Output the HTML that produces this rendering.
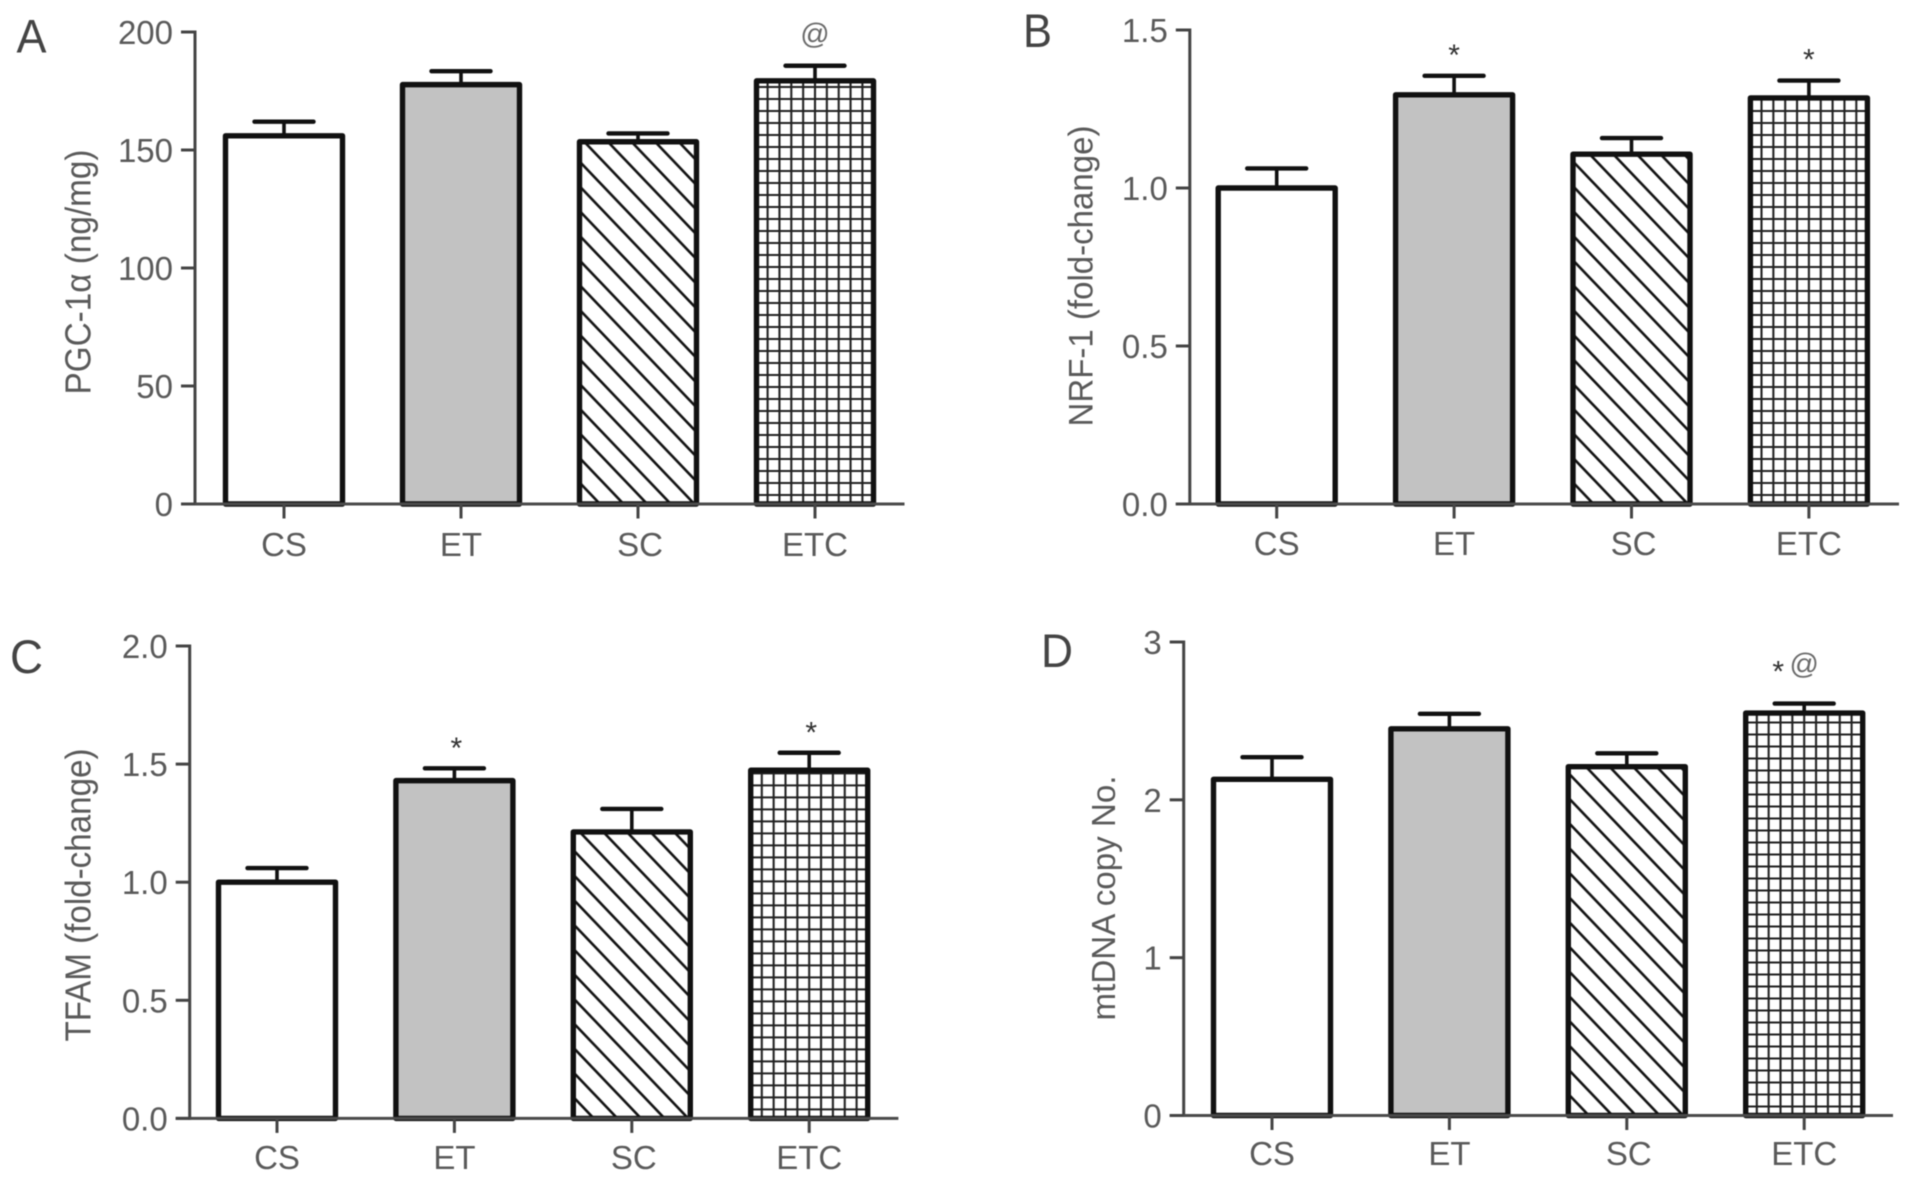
<!DOCTYPE html>
<html lang="en">
<head>
<meta charset="utf-8">
<title>PGC-1α, NRF-1, TFAM and mtDNA bar charts</title>
<style>
html,body{margin:0;padding:0;background:#fff;}
body{width:1913px;height:1183px;overflow:hidden;}
#figure{display:block;filter:blur(0.6px);}
text{font-family:"Liberation Sans",sans-serif;fill:#5a5a5a;}
</style>
</head>
<body>
<svg id="figure" xmlns="http://www.w3.org/2000/svg" width="1913" height="1183" viewBox="0 0 1913 1183">
<rect width="1913" height="1183" fill="#fff"/>
<defs id="defs"></defs>
</svg>
<script>
const categories = ['CS', 'ET', 'SC', 'ETC'];

const ticksA = ['0', '50', '100', '150', '200'];
const meansA = [156, 177.7, 153.5, 179.3];
const errorsA = [6, 5.7, 3.5, 6.4];
const marksA = ['', '', '', '@'];

const ticksB = ['0.0', '0.5', '1.0', '1.5'];
const meansB = [1.0, 1.295, 1.107, 1.285];
const errorsB = [0.062, 0.06, 0.051, 0.055];
const marksB = ['', '*', '', '*'];

const ticksC = ['0.0', '0.5', '1.0', '1.5', '2.0'];
const meansC = [1.0, 1.43, 1.213, 1.474];
const errorsC = [0.06, 0.052, 0.097, 0.074];
const marksC = ['', '*', '', '*'];

const ticksD = ['0', '1', '2', '3'];
const meansD = [2.13, 2.45, 2.21, 2.55];
const errorsD = [0.14, 0.095, 0.085, 0.06];
const marksD = ['', '', '', '*@'];

const NS = 'http://www.w3.org/2000/svg';
const svg = document.getElementById('figure');
const defs = document.getElementById('defs');

function make(tag, attrs, parent, content) {
  const el = document.createElementNS(NS, tag);
  Object.keys(attrs).forEach(function (k) { el.setAttribute(k, attrs[k]); });
  if (content !== undefined) el.textContent = content;
  parent.appendChild(el);
  return el;
}

function drawPanel(p) {
  const group = make('g', {}, svg);
  
  

  const maxValue = parseFloat(p.ticks[p.ticks.length - 1]);
  const yScale = function (v) { return p.base - (v / maxValue) * (p.base - p.top); };
  const xScale = function (i) { return p.x0 + i * p.step; };
  const halfBar = 58.5;
  const id = p.letter;

  const hatch = make('pattern', {id: 'hatch' + id, patternUnits: 'userSpaceOnUse', width: 23.6, height: 24.7, x: xScale(2) - 38, y: p.base}, defs);
  make('rect', {width: 23.6, height: 24.7, fill: '#fff'}, hatch);
  make('path', {d: 'M-3,-3.14 L26.6,27.84 M-3,21.56 L3,27.84 M20.6,-3.14 L26.6,3.14', stroke: '#111', 'stroke-width': 2.6, fill: 'none'}, hatch);

  const grid = make('pattern', {id: 'grid' + id, patternUnits: 'userSpaceOnUse', width: 11.85, height: 12, x: xScale(3) - 59.25 - 5.925, y: p.base - 9 - 6}, defs);
  make('rect', {width: 11.85, height: 12, fill: '#fff'}, grid);
  make('path', {d: 'M5.925,0 V12 M0,6 H11.85', stroke: '#222', 'stroke-width': 2.1, fill: 'none'}, grid);

  const fills = ['#fff', '#c2c2c2', 'url(#hatch' + id + ')', 'url(#grid' + id + ')'];

  categories.forEach(function (cat, i) {
    const cx = xScale(i);
    const topY = yScale(p.means[i]);
    const capY = yScale(p.means[i] + p.errors[i]);

    const stem = make('line', {x1: cx, x2: cx, y1: capY, y2: topY, stroke: '#111', 'stroke-width': 3.6}, group);
    
    

    const cap = make('line', {x1: cx - 29.5, x2: cx + 29.5, y1: capY, y2: capY, stroke: '#111', 'stroke-width': 4.4, 'stroke-linecap': 'round'}, group);
    
    

    const bar = make('rect', {x: cx - halfBar, y: topY, width: halfBar * 2, height: p.base - topY, fill: fills[i], stroke: '#111', 'stroke-width': 5.4, 'stroke-linejoin': 'round'}, group);
    
    

    const tick = make('line', {x1: cx, x2: cx, y1: p.base, y2: p.base + 14.5, stroke: '#444', 'stroke-width': 3}, group);
    
    

    const label = make('text', {x: cx + (cat === 'SC' ? 2 : 0), y: p.catY, 'text-anchor': 'middle', 'font-size': 33}, group, cat);
    
    

    const chars = p.marks[i].split('');
    chars.forEach(function (ch) {
      const isAt = ch === '@';
      const dx = (!isAt && chars.length > 1) ? -26 : 0;
      const mark = make('text', {x: cx + dx + p.markDx, y: capY - (isAt ? p.atGap : p.starGap), 'text-anchor': 'middle', 'font-size': isAt ? 29 : 30, style: isAt ? 'fill:#6a6a6a' : 'fill:#333'}, group, ch);
      
      
    });
  });

  const yAxis = make('line', {x1: p.axisX, x2: p.axisX, y1: p.top - 1.5, y2: p.base + 1.5, stroke: '#444', 'stroke-width': 3}, group);
  
  

  const xAxis = make('line', {x1: p.axisX - 14, x2: p.xEnd, y1: p.base, y2: p.base, stroke: '#4a4a4a', 'stroke-width': 3}, group);
  
  

  p.ticks.forEach(function (t) {
    const y = yScale(parseFloat(t));
    const tick = make('line', {x1: p.axisX - 14, x2: p.axisX, y1: y, y2: y, stroke: '#444', 'stroke-width': 3}, group);
    
    

    const label = make('text', {x: p.axisX - 22, y: y + 12, 'text-anchor': 'end', 'font-size': 33}, group, t);
    
    
  });

  const title = make('text', {transform: 'translate(' + p.titleX + ',' + p.titleY + ') rotate(-90)', 'text-anchor': 'middle', 'font-size': p.titleFont, textLength: p.titleLen, lengthAdjust: 'spacingAndGlyphs'}, group, p.title);
  
  

  const letter = make('text', {x: p.letterX, y: p.letterY, 'font-size': 47, textLength: p.letterLen, lengthAdjust: 'spacingAndGlyphs', style: 'fill:#444'}, group, p.letter);
  
  
}

drawPanel({letter: 'A', ticks: ticksA, means: meansA, errors: errorsA, marks: marksA, title: 'PGC-1α (ng/mg)',
  axisX: 195, top: 32, base: 504, xEnd: 904.5, x0: 284, step: 177, catY: 556, markDx: 0, starGap: 11, atGap: 22,
  titleX: 90.5, titleY: 272, titleLen: 245, titleFont: 36, letterX: 16.5, letterY: 52.5, letterLen: 30});
drawPanel({letter: 'B', ticks: ticksB, means: meansB, errors: errorsB, marks: marksB, title: 'NRF-1  (fold-change)',
  axisX: 1189.8, top: 30, base: 504, xEnd: 1899, x0: 1276.7, step: 177.4, catY: 555, markDx: 0, starGap: 11, atGap: 22,
  titleX: 1092.5, titleY: 276, titleLen: 301, titleFont: 34, letterX: 1023, letterY: 47, letterLen: 29});
drawPanel({letter: 'C', ticks: ticksC, means: meansC, errors: errorsC, marks: marksC, title: 'TFAM (fold-change)',
  axisX: 189.7, top: 646, base: 1118.4, xEnd: 898.4, x0: 277, step: 177.4, catY: 1169, markDx: 2, starGap: 10.5, atGap: 22,
  titleX: 90.5, titleY: 895, titleLen: 293, titleFont: 36, letterX: 10, letterY: 673, letterLen: 33});
drawPanel({letter: 'D', ticks: ticksD, means: meansD, errors: errorsD, marks: marksD, title: 'mtDNA copy No.',
  axisX: 1183.7, top: 642, base: 1115.5, xEnd: 1893, x0: 1272, step: 177.4, catY: 1165, markDx: 0, starGap: 22, atGap: 30,
  titleX: 1115, titleY: 898, titleLen: 245, titleFont: 33, letterX: 1041, letterY: 667, letterLen: 32});
</script>
</body>
</html>
